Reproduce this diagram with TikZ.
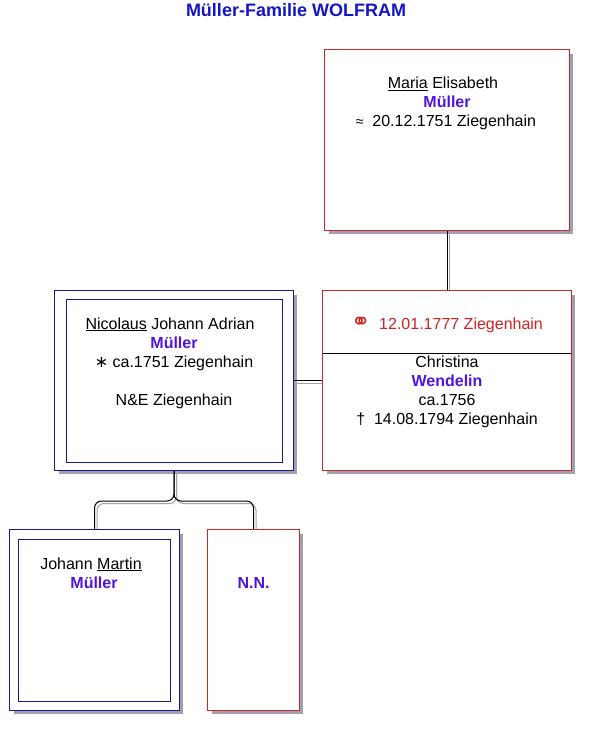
\documentclass[tikz,border=0pt]{standalone}
\usepackage{fontspec}
\setmainfont{Liberation Sans}
\newfontfamily\symfont{DejaVu Sans}
\definecolor{boxred}{RGB}{200,40,40}
\definecolor{boxblue}{RGB}{25,25,140}
\definecolor{shadowgray}{RGB}{160,160,175}
\definecolor{namecol}{RGB}{80,20,220}
\definecolor{titleblue}{RGB}{20,20,200}
\definecolor{marcol}{RGB}{205,35,35}
\begin{document}
\begin{tikzpicture}[x=1pt,y=-1pt,
  txt/.style={anchor=base, inner sep=0pt, font=\fontsize{16}{19}\selectfont},
  sname/.style={anchor=base, inner sep=0pt, font=\fontsize{16}{19}\selectfont\bfseries, text=namecol},
  boxslot/.style={rectangle, inner sep=0pt},
  redframe/.style={draw=boxred, line width=1pt, fill=white},
  blueframe/.style={draw=boxblue, line width=1pt, fill=white},
  innerbox/.style={rectangle, inner sep=0pt, line width=1pt, draw=boxblue},
  shadowfill/.style={fill=shadowgray},
  conn/.style={draw=black, line width=1pt},
  connsh/.style={draw=shadowgray, line width=1pt}]
\useasboundingbox (0,0) rectangle (590,730);
\fill[white] (0,0) rectangle (590,730);

\node[anchor=base, inner sep=0pt, font=\fontsize{18}{21}\selectfont\bfseries, text=titleblue] (title) at (296,17) {Müller-Familie WOLFRAM};

\coordinate (fork) at (175,501);

% box slots (placement only)
\path node[boxslot, minimum width=244pt, minimum height=180pt] (maria) at (447,140) {};
\path node[boxslot, minimum width=248pt, minimum height=179pt] (mar) at (447,380.5) {};
\path node[boxslot, minimum width=238pt, minimum height=179pt] (nic) at (174,380.5) {};
\path node[boxslot, minimum width=169pt, minimum height=180pt] (jm) at (94.5,620) {};
\path node[boxslot, minimum width=91pt, minimum height=180pt] (nn) at (253.5,620) {};

% drop shadows
\foreach \b in {maria,mar,nic,jm,nn}
  \fill[shadowfill] ([shift={(4pt,-4pt)}]\b.south west) rectangle ([shift={(4pt,-4pt)}]\b.north east);

% connector shadows
\draw[connsh] ([xshift=2.5pt]maria.south) -- ([xshift=2.5pt]mar.north);
\draw[connsh] ([yshift=-2.5pt]nic.east) -- ([yshift=-2.5pt]mar.west);
\draw[connsh, rounded corners=7pt] ([xshift=2.5pt]nic.south) -- ([xshift=2.5pt, yshift=-2.5pt]nic.south |- fork) -- ([xshift=2.5pt, yshift=-2.5pt]jm.north |- fork) -- ([xshift=2.5pt]jm.north);
\draw[connsh, rounded corners=7pt] ([xshift=2.5pt]nic.south) -- ([xshift=2.5pt, yshift=-2.5pt]nic.south |- fork) -- ([xshift=2.5pt, yshift=-2.5pt]nn.north |- fork) -- ([xshift=2.5pt]nn.north);
% connectors
\draw[conn] (maria.south) -- (mar.north);
\draw[conn] (nic.east) -- (mar.west);
\draw[conn, rounded corners=7pt] (nic.south) -- (nic.south |- fork) -- (jm.north |- fork) -- (jm.north);
\draw[conn, rounded corners=7pt] (nic.south) -- (nic.south |- fork) -- (nn.north |- fork) -- (nn.north);

% frames
\draw[redframe] (maria.south west) rectangle (maria.north east);
\draw[redframe] (mar.south west) rectangle (mar.north east);
\draw[blueframe] (nic.south west) rectangle (nic.north east);
\draw[blueframe] (jm.south west) rectangle (jm.north east);
\draw[redframe] (nn.south west) rectangle (nn.north east);

% inner frames
\node[innerbox, minimum width=216pt, minimum height=163pt] (nicin) at (174,380.5) {};
\node[innerbox, minimum width=152pt, minimum height=162pt] (jmin) at (94,620) {};

% divider in marriage box
\draw[black, line width=1pt] (mar.west |- 0,353) -- (mar.east |- 0,353);

% Maria
\node[txt] (m1) at (443,89) {\underline{Maria} Elisabeth};
\node[sname] (m2) at (447,108) {Müller};
\node[txt] (m3) at (446,127) {{\fontsize{14}{14}\selectfont ≈}\ \ 20.12.1751 Ziegenhain};

% Marriage
\node[txt, text=marcol] (w0) at (447,329) {{\symfont\fontsize{23}{23}\selectfont ⚭}\ \ 12.01.1777 Ziegenhain};
\node[txt] (w1) at (447,367) {Christina};
\node[sname] (w2) at (447,386) {Wendelin};
\node[txt] (w3) at (447,405) {ca.1756};
\node[txt] (w4) at (447,424) {†\ \ 14.08.1794 Ziegenhain};

% Nicolaus
\node[txt] (n1) at (170,329) {\underline{Nicolaus} Johann Adrian};
\node[sname] (n2) at (174,348) {Müller};
\node[txt] (n3) at (174,367) {{\symfont ∗} ca.1751 Ziegenhain};
\node[txt] (n4) at (174,405) {N\&E Ziegenhain};

% Johann Martin
\node[txt] (j1) at (91,569) {Johann \underline{Martin}};
\node[sname] (j2) at (94,588) {Müller};

% N.N.
\node[sname] (nn1) at (253.5,588) {N.N.};
\end{tikzpicture}
\end{document}
